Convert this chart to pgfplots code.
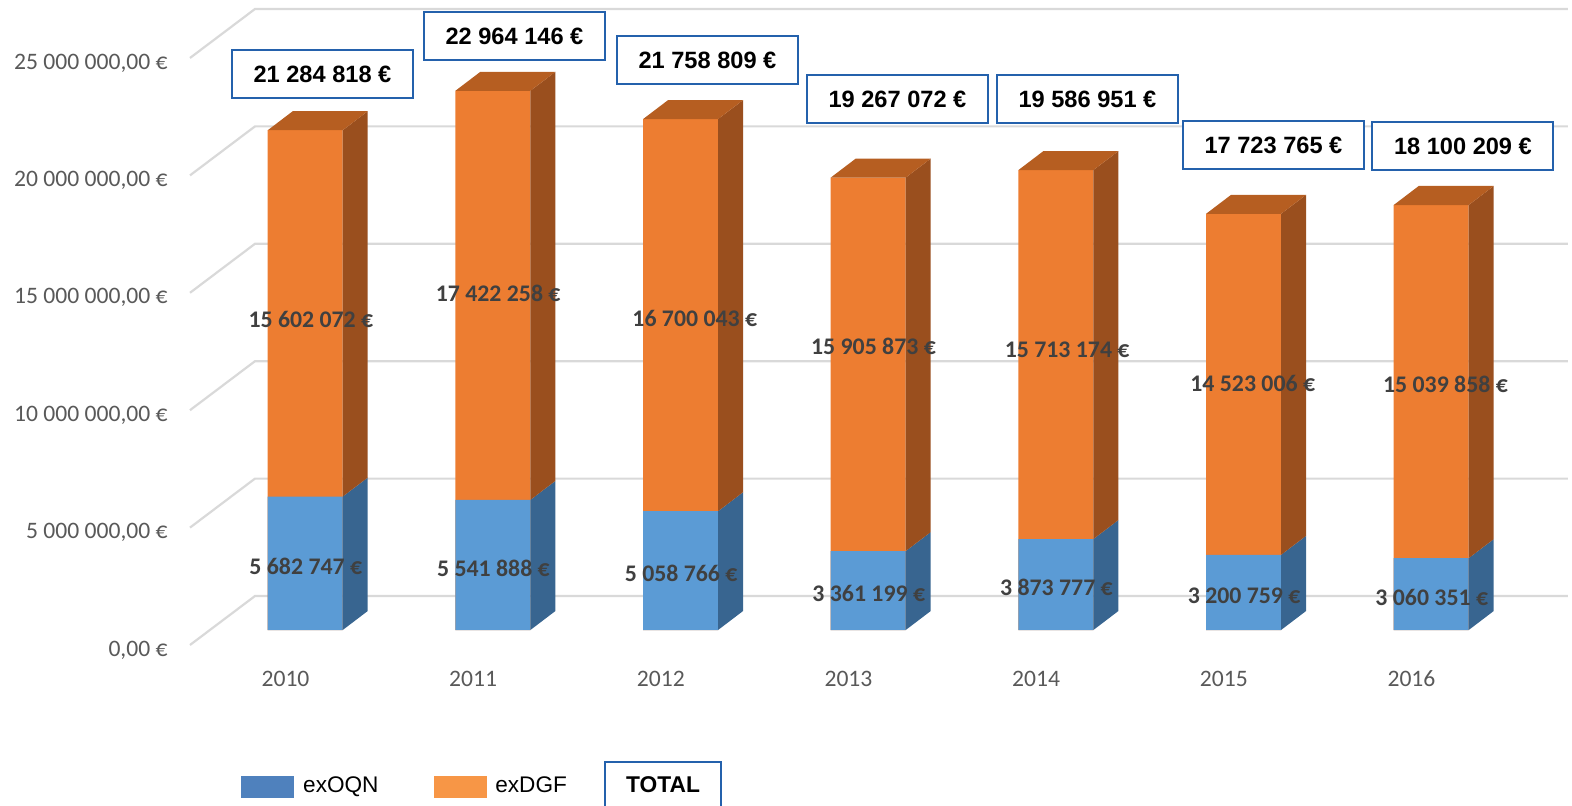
\documentclass[border=0pt]{standalone}
\usepackage{pgfplots}
\pgfplotsset{compat=1.18}
\usepackage{pgfplotstable}
\usepackage{fontspec}
\setmainfont{Carlito}
\newfontfamily\arialf{Liberation Sans}

\definecolor{blueF}{HTML}{5B9BD5}
\definecolor{blueS}{HTML}{386590}
\definecolor{orangeF}{HTML}{ED7D31}
\definecolor{orangeS}{HTML}{9A4F1E}
\definecolor{orangeT}{HTML}{B65E21}
\definecolor{gridc}{HTML}{D9D9D9}
\definecolor{tickc}{HTML}{595959}
\definecolor{lblc}{HTML}{404040}
\definecolor{boxc}{HTML}{2461AC}
\definecolor{legB}{HTML}{4F81BD}
\definecolor{legO}{HTML}{F79646}

\newcommand\tickfont{\fontsize{11.8pt}{14pt}\selectfont}
\newcommand\lblfont{\bfseries\fontsize{11.9pt}{14pt}\selectfont}
\newcommand\totfont{\arialf\bfseries\fontsize{11.8pt}{14pt}\selectfont}

\pgfkeys{/pgf/number format/eur/.style={fixed, precision=0, 1000 sep={\ }, assume math mode=true}}
\pgfkeys{/pgf/number format/yfmt/.style={fixed, fixed zerofill, precision=2, dec sep={,}, 1000 sep={\ }, assume math mode=true}}

% values in euros; bx, by = position of the TOTAL label, ox, oy = position of the exDGF label (axis units)
\pgfplotstableread{
idx year oqn dgf total bx by ox oy
0 2010 5682747 15602072 21284818 0.0959 23.658 0.034 13.224
1 2011 5541888 17422258 22964146 1.1190 25.298 1.032 14.331
2 2012 5058766 16700043 21758809 2.1474 24.255 2.080 13.267
3 2013 3361199 15905873 19267072 3.1598 22.615 3.032 12.074
4 2014 3873777 15713174 19586951 4.1722 22.615 4.064 11.946
5 2015 3200759 14523006 17723765 5.1633 20.635 5.053 10.498
6 2016 3060351 15039858 18100209 6.1730 20.592 6.080 10.456
}\datatable

\newcommand\hw{0.19982}
\newcommand\sdx{0.13321}
\newcommand\sdy{0.8092}

\begin{document}
\begin{tikzpicture}
\useasboundingbox (0,0) rectangle (786pt,402.5pt);
\begin{axis}[
  at={(0,0)}, anchor=south west,
  scale only axis, width=786pt, height=402.5pt,
  xmin=-1.6225, xmax=6.7543, ymin=-7.453, ymax=26.831,
  axis lines=none, xtick=\empty, ytick=\empty, clip=false,
  legend style={at={(0.1533,0.0230)}, anchor=west, draw=none, fill=none,
    inner sep=0pt, font=\arialf\fontsize{11.3pt}{13pt}\selectfont,
    legend columns=2, nodes={inner sep=0pt},
    /tikz/every odd column/.append style={column sep=4.5pt},
    /tikz/every even column/.append style={column sep=27.5pt}},
]

% back-wall gridlines and left floor diagonals
\pgfplotsforeachungrouped \v in {0,5,...,25}{%
  \pgfmathsetmacro\ga{\v-0.6388}%
  \pgfmathsetmacro\gb{\v+1.448}%
  \pgfmathsetmacro\gl{\v-0.852}%
  \edef\temp{%
    \noexpand\addplot[gridc, line width=1.1pt, forget plot] coordinates {(-0.6101,\ga) (-0.2638,\gb) (6.7326,\gb)};
    \noexpand\node[anchor=east, text=tickc, font=\noexpand\tickfont, inner sep=0pt] at (axis cs:-0.7273,\gl) {\noexpand\pgfmathprintnumber[yfmt]{\v000000} €};
  }\temp
}

\addlegendimage{legend image code/.code={\fill[legB] (0pt,-5.25pt) rectangle (26pt,5.25pt);}}
\addlegendentry{exOQN}
\addlegendimage{legend image code/.code={\fill[legO] (0pt,-5.25pt) rectangle (26pt,5.25pt);}}
\addlegendentry{exDGF}

% front faces
\addplot[ybar, bar width=37.5pt, bar shift=0pt, fill=orangeF, draw=none, forget plot]
  table[x expr=\thisrow{idx}+0.004, y expr=(\thisrow{oqn}+\thisrow{dgf})/1000000]{\datatable};
\addplot[ybar, bar width=37.5pt, bar shift=0pt, fill=blueF, draw=none, forget plot]
  table[x expr=\thisrow{idx}+0.004, y expr=\thisrow{oqn}/1000000]{\datatable};

% side faces, tops and labels
\pgfplotsforeachungrouped \i in {0,...,6}{%
  \pgfplotstablegetelem{\i}{oqn}\of\datatable \let\ro\pgfplotsretval
  \pgfplotstablegetelem{\i}{dgf}\of\datatable \let\rd\pgfplotsretval
  \pgfplotstablegetelem{\i}{total}\of\datatable \let\rt\pgfplotsretval
  \pgfplotstablegetelem{\i}{bx}\of\datatable \let\rbx\pgfplotsretval
  \pgfplotstablegetelem{\i}{by}\of\datatable \let\rby\pgfplotsretval
  \pgfplotstablegetelem{\i}{ox}\of\datatable \let\rox\pgfplotsretval
  \pgfplotstablegetelem{\i}{oy}\of\datatable \let\roy\pgfplotsretval
  \pgfplotstablegetelem{\i}{year}\of\datatable \let\ryr\pgfplotsretval
  \pgfkeys{/pgf/fpu=true,/pgf/fpu/output format=fixed}%
  \pgfmathsetmacro\b{\ro/1000000}%
  \pgfmathsetmacro\t{(\ro+\rd)/1000000}%
  \pgfmathsetmacro\bs{\b+\sdy}%
  \pgfmathsetmacro\ts{\t+\sdy}%
  \pgfmathsetmacro\xr{\i+0.004+\hw}%
  \pgfmathsetmacro\xrr{\i+0.004+\hw+\sdx}%
  \pgfmathsetmacro\xl{\i+0.004-\hw}%
  \pgfmathsetmacro\xll{\i+0.004-\hw+\sdx}%
  \pgfmathsetmacro\bm{\b/2-0.13}%
  \pgfmathsetmacro\xb{\i+0.007}%
  \pgfmathsetmacro\xy{\i-0.1012}%
  \pgfkeys{/pgf/fpu=false}%
  \edef\temp{%
    \noexpand\addplot[fill=blueS, draw=none, forget plot] coordinates {(\xr,0) (\xrr,\sdy) (\xrr,\bs) (\xr,\b)} -- cycle;
    \noexpand\addplot[fill=orangeS, draw=none, forget plot] coordinates {(\xr,\b) (\xrr,\bs) (\xrr,\ts) (\xr,\t)} -- cycle;
    \noexpand\addplot[fill=orangeT, draw=none, forget plot] coordinates {(\xl,\t) (\xr,\t) (\xrr,\ts) (\xll,\ts)} -- cycle;
    \noexpand\node[font=\noexpand\lblfont, text=lblc, inner sep=0pt] at (axis cs:\xb,\bm) {\noexpand\pgfmathprintnumber[eur]{\ro} €};
    \noexpand\node[font=\noexpand\lblfont, text=lblc, inner sep=0pt] at (axis cs:\rox,\roy) {\noexpand\pgfmathprintnumber[eur]{\rd} €};
    \noexpand\node[draw=boxc, line width=1pt, fill=white, minimum width=90.5pt, minimum height=24pt, inner sep=0pt, font=\noexpand\totfont] at (axis cs:\rbx,\rby) {\noexpand\pgfmathprintnumber[eur]{\rt} €};
    \noexpand\node[font=\noexpand\tickfont, text=tickc, inner sep=0pt] at (axis cs:\xy,-2.066) {\ryr};
  }\temp
}

\node[draw=boxc, line width=1pt, minimum width=58pt, minimum height=23pt, inner sep=0pt,
  font=\arialf\bfseries\fontsize{11.4pt}{13pt}\selectfont] at (axis cs:1.9103,-6.601) {TOTAL};
\end{axis}
\end{tikzpicture}
\end{document}
